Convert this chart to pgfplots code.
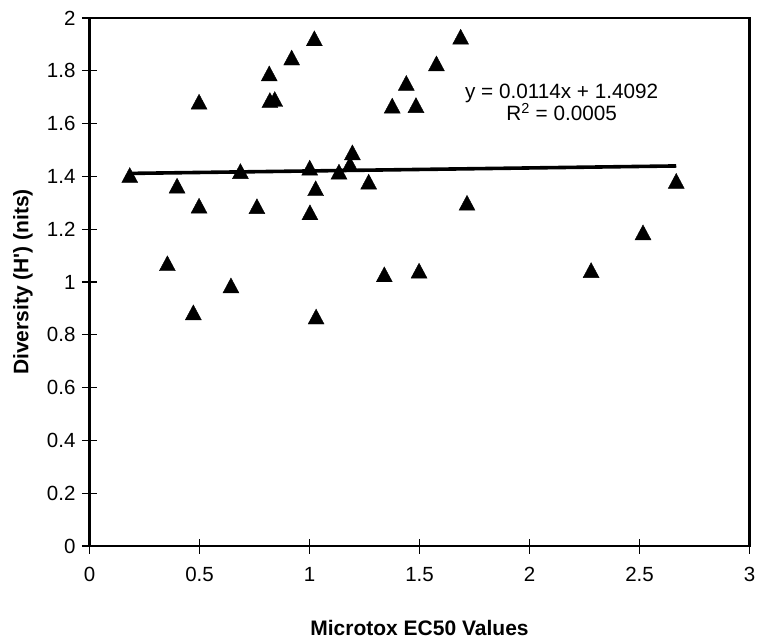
\documentclass[border=0pt]{standalone}
\usepackage{fontspec}
\setmainfont{Liberation Sans}
\usepackage{pgfplots}
\pgfplotsset{compat=1.18}
\pgfplotstableread{
x y
0.183 1.405
0.398 1.365
0.498 1.289
0.498 1.683
0.354 1.071
0.472 0.885
0.643 0.987
0.686 1.420
0.761 1.287
0.817 1.790
0.820 1.689
0.842 1.693
0.919 1.850
1.022 1.923
1.001 1.433
1.028 1.355
1.002 1.264
1.030 0.869
1.134 1.418
1.184 1.447
1.195 1.491
1.269 1.380
1.340 1.029
1.376 1.668
1.440 1.754
1.484 1.670
1.498 1.043
1.577 1.828
1.687 1.929
1.716 1.300
2.280 1.045
2.516 1.188
2.667 1.383
}\datatable
\begin{document}
\begin{tikzpicture}[x=1pt,y=1pt]
\useasboundingbox (-89.5,-93) rectangle (669.5,546);
\begin{axis}[
  at={(0,0)}, anchor=south west,
  scale only axis, width=660pt, height=528pt,
  xmin=0, xmax=3, ymin=0, ymax=2,
  xtick={0,0.5,1,1.5,2,2.5,3},
  ytick={0,0.2,0.4,0.6,0.8,1,1.2,1.4,1.6,1.8,2},
  xtick pos=bottom, ytick pos=left,
  tick align=center, major tick length=15pt,
  tick style={black, line width=1.1pt},
  axis line style={black, line width=2.2pt},
  /pgf/number format/assume math mode=true,
  ticklabel style={font=\fontsize{20.5}{24}\selectfont},
  xticklabel style={yshift=-10pt},
  yticklabel style={xshift=-3pt},
  xlabel={Microtox EC50 Values},
  ylabel={Diversity (H\textquotesingle) (nits)},
  label style={font=\bfseries\fontsize{21}{24}\selectfont},
  xlabel style={at={(axis description cs:0.5,0)}, anchor=center, yshift=-82pt},
  ylabel style={at={(axis description cs:-0.1008,0.5)}, anchor=center},
  clip=false,
]
\addplot[only marks, mark=triangle*, mark size=9.2pt, black,
  mark options={yscale=1.08, yshift=-2.3pt}] table[x=x,y=y] {\datatable};
\addplot[black, line width=3.6pt] coordinates {(0.183,1.4113) (2.667,1.4396)};
\node[align=center, font=\fontsize{20.7}{22.5}\selectfont] at (axis cs:2.146,1.68)
  {y = 0.0114x + 1.4092\\R\textsuperscript{2} = 0.0005};
\end{axis}
\end{tikzpicture}
\end{document}
